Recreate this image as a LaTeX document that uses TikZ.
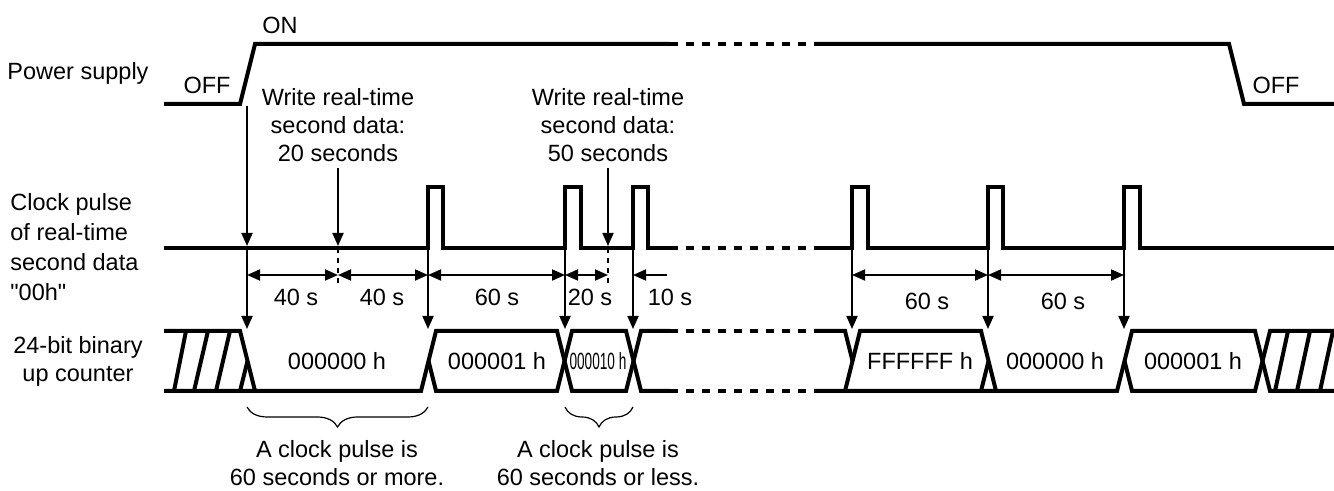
\documentclass[tikz,border=0pt]{standalone}
\usepackage{fontspec}
\setmainfont{Liberation Sans}[Ligatures=TeXOff]
\usepackage{graphicx}
\usetikzlibrary{arrows.meta, positioning, decorations.pathreplacing}

\begin{document}
\begin{tikzpicture}[
  x=0.5pt, y=-0.5pt,
  txt/.style={inner sep=0pt, font=\fontsize{11.75}{14}\selectfont},
  blk/.style={txt, align=center},
  sig/.style={line width=2pt, line join=miter},
  brk/.style={sig, dash pattern=on 4pt off 4pt},
  arr/.style={-{Triangle[length=6.5pt, width=5.5pt]}, line width=0.9pt},
  dim/.style={{Triangle[length=6.5pt, width=5.5pt]}-{Triangle[length=6.5pt, width=5.5pt]}, line width=0.9pt},
  guide/.style={line width=0.9pt, dash pattern=on 2.5pt off 2.5pt},
  brc/.style={decorate, decoration={brace, mirror, amplitude=10pt}, line width=0.6pt}
]
  \useasboundingbox (0,0) rectangle (1334,491);

  % row labels
  \node[blk] (ps)  at (78,73)  {Power supply};
  \node[txt, align=left, anchor=west, font=\fontsize{11.75}{15}\selectfont] (clk) at (10,247)
    {Clock pulse\\of real-time\\second data\\"00h"};
  \node[blk] (cnt) at (78,361) {24-bit binary\\up counter};

  % power supply
  \node[txt] (on)   at (280,25)  {ON};
  \node[txt] (off1) at (207,85)  {OFF};
  \node[txt] (off2) at (1276,85) {OFF};
  \draw[sig] (164,104) -- (240,104) -- (255,44) -- (670,44);
  \draw[brk] (670,44) -- (814,44);
  \draw[sig] (814,44) -- (1229,44) -- (1244,104) -- (1334,104);

  % clock pulse
  \draw[sig] (164,248) -- (428,248) |- (443,187) |- (565,248) |- (581,187)
             |- (633,248) |- (648,187) |- (670,248);
  \draw[brk] (670,248) -- (814,248);
  \draw[sig] (814,248) -- (852,248) |- (868,187) |- (988,248) |- (1003,187)
             |- (1124,248) |- (1140,187) |- (1334,248);

  % counter
  \draw[sig] (164,331) -- (240,331) -- (255,391);
  \draw[sig] (240,391) -- (247.5,361);
  \draw[sig] (164,391) -- (421,391) -- (436,331) -- (557,331) -- (572,391)
             -- (626,391) -- (641,331) -- (670,331);
  \draw[sig] (428.5,361) -- (436,391) -- (557,391) -- (572,331) -- (626,331)
             -- (641,391) -- (670,391);
  \draw[brk] (670,331) -- (814,331);
  \draw[brk] (670,391) -- (814,391);
  \draw[sig] (814,331) -- (845,331) -- (852.5,361);
  \draw[sig] (814,391) -- (1117,391) -- (1132,331) -- (1255,331) -- (1270,391) -- (1334,391);
  \draw[sig] (845,391) -- (860,331) -- (981,331) -- (996,391);
  \draw[sig] (981,391) -- (988.5,361);
  \draw[sig] (1124.5,361) -- (1132,391) -- (1255,391) -- (1270,331) -- (1334,331);
  \draw[sig] (174,391) -- (186,331);
  \draw[sig] (194,391) -- (208,331);
  \draw[sig] (216,391) -- (230,331);
  \draw[sig] (1275,391) -- (1288,331);
  \draw[sig] (1297,391) -- (1310,331);
  \draw[sig] (1320,391) -- (1333,331);

  \node[txt] (v0) at (337,361) {000000 h};
  \node[txt] (v1) at (497,361) {000001 h};
  \node[txt] (v2) at (598,361) {\scalebox{0.58}[1]{000010 h}};
  \node[txt] (v3) at (920,361) {FFFFFF h};
  \node[txt] (v4) at (1055,361) {000000 h};
  \node[txt] (v5) at (1193,361) {000001 h};

  % write events
  \node[blk] (wr1) at (338,125) {Write real-time\\second data:\\20 seconds};
  \node[blk] (wr2) at (608,125) {Write real-time\\second data:\\50 seconds};

  \coordinate (pw) at (247,106);
  \coordinate (w1) at (338,248);
  \coordinate (w2) at (608,248);
  \coordinate (g1) at (338,287);
  \coordinate (g2) at (608,287);
  \coordinate (e0) at (247,248);
  \coordinate (e1) at (428,248);
  \coordinate (e2) at (565,248);
  \coordinate (e3) at (633,248);
  \coordinate (e4) at (852,248);
  \coordinate (e5) at (988,248);
  \coordinate (e6) at (1124,248);
  \coordinate (k0) at (247,331);
  \coordinate (k1) at (428,331);
  \coordinate (k2) at (565,331);
  \coordinate (k3) at (633,331);
  \coordinate (k4) at (852,331);
  \coordinate (k5) at (988,331);
  \coordinate (k6) at (1124,331);

  \draw[arr, shorten >=1pt] (pw) -- (e0);
  \draw[arr, shorten <=3pt, shorten >=1pt] (wr1) -- (w1);
  \draw[arr, shorten <=3pt, shorten >=1pt] (wr2) -- (w2);
  \draw[guide] (w1) -- (g1);
  \draw[guide] (w2) -- (g2);
  \draw[arr, shorten >=1pt] (e0) -- (k0);
  \draw[arr, shorten >=1pt] (e1) -- (k1);
  \draw[arr, shorten >=1pt] (e2) -- (k2);
  \draw[arr, shorten >=1pt] (e3) -- (k3);
  \draw[arr, shorten >=1pt] (e4) -- (k4);
  \draw[arr, shorten >=1pt] (e5) -- (k5);
  \draw[arr, shorten >=1pt] (e6) -- (k6);

  % intervals
  \coordinate (d0) at (247,275);
  \coordinate (d1) at (338,275);
  \coordinate (d2) at (428,275);
  \coordinate (d3) at (565,275);
  \coordinate (d4) at (608,275);
  \coordinate (d5) at (633,275);
  \coordinate (d6) at (667,275);
  \coordinate (d7) at (852,275);
  \coordinate (d8) at (988,275);
  \coordinate (d9) at (1124,275);
  \draw[dim] (d0) -- (d1);
  \draw[dim] (d1) -- (d2);
  \draw[dim] (d2) -- (d3);
  \draw[dim] (d3) -- (d4);
  \draw[arr] (d6) -- (d5);
  \draw[dim] (d7) -- (d8);
  \draw[dim] (d8) -- (d9);

  \node[txt] (s1) at (296,297)  {40 s};
  \node[txt] (s2) at (382,297)  {40 s};
  \node[txt] (s3) at (497,297)  {60 s};
  \node[txt] (s4) at (590,297)  {20 s};
  \node[txt] (s5) at (670,297)  {10 s};
  \node[txt] (s6) at (927,301)  {60 s};
  \node[txt] (s7) at (1063,301) {60 s};

  % braces
  \coordinate (b0) at (247,407);
  \coordinate (b1) at (428,407);
  \coordinate (b2) at (565,407);
  \coordinate (b3) at (633,407);
  \draw[brc] (b0) -- (b1);
  \draw[brc] (b2) -- (b3);
  \node[blk] (n1) at (337,463) {A clock pulse is\\60 seconds or more.};
  \node[blk] (n2) at (598,463) {A clock pulse is\\60 seconds or less.};
\end{tikzpicture}
\end{document}
